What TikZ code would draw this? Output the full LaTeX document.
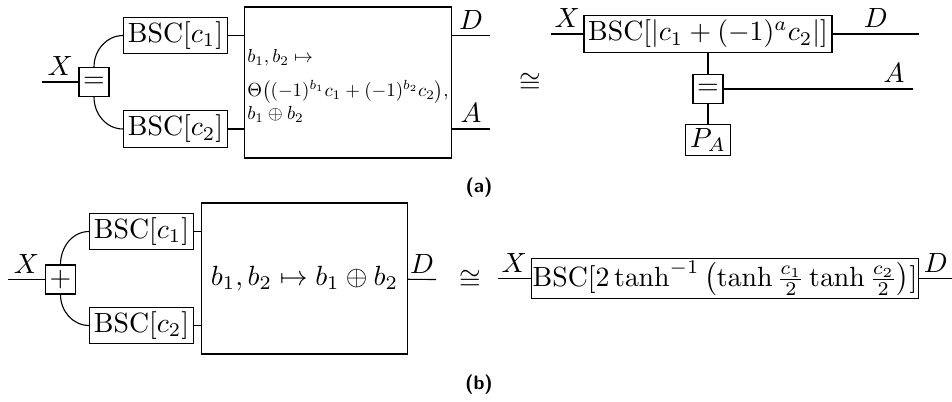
\documentclass[tikz,border=0pt]{standalone}
\usepackage{amsmath}
\usepackage{graphicx}
\usetikzlibrary{positioning}
\tikzset{
  chan/.style={draw,inner sep=1.5pt},
  gate/.style={draw,inner sep=0pt,minimum width=10.8pt,minimum height=10.4pt},
  block/.style={draw,minimum width=74.1pt,minimum height=54.3pt},
  lbl/.style={inner sep=2pt},
  tag/.style={font=\sffamily\bfseries\scriptsize}
}

\begin{document}
\begin{tikzpicture}[x=0.3597pt,y=-0.3597pt]
  \useasboundingbox (0,0) rectangle (952,401);
  % (a) left side
  \node[gate] (eqa) at (94,82) {$=$};
  \node[chan] (bsc1a) at (175.5,35.5) {BSC$[c_1]$};
  \node[chan] (bsc2a) at (175.5,129) {BSC$[c_2]$};
  \node[block,inner sep=1pt] (fa) at (348,82.5)
    {\scalebox{0.68}{\begin{tabular}{@{}l@{}}\rule{0pt}{12.5pt}$b_1,b_2\mapsto$\\[6pt]
      $\Theta\big((-1)^{b_1}c_1+(-1)^{b_2}c_2\big),$\\$b_1\oplus b_2$\end{tabular}}};
  \coordinate (xa) at (42,82);
  \coordinate (da) at (490,35.5);
  \coordinate (aa) at (490,129);
  \draw (xa) -- node[lbl,above] (xla) {$X$} (eqa);
  \draw (eqa.north) to[out=90,in=180] (bsc1a.west);
  \draw (eqa.south) to[out=-90,in=180] (bsc2a.west);
  \draw (bsc1a.east) -- (bsc1a.east -| fa.west);
  \draw (bsc2a.east) -- (bsc2a.east -| fa.west);
  \draw (fa.east |- da) -- node[lbl,above] (dla) {$D$} (da);
  \draw (fa.east |- aa) -- node[lbl,above] (ala) {$A$} (aa);
  \node[inner sep=0pt] (cong1) at (530,83) {$\cong$};
  % (a) right side
  \node[chan] (bscr) at (708,34) {BSC$[|c_1+(-1)^a c_2|]$};
  \node[gate] (eqr) at (708,89) {$=$};
  \node[chan] (pa) at (708,140) {$P_A$};
  \coordinate (xr) at (551,34);
  \coordinate (dr) at (919,34);
  \coordinate (ar) at (913,89);
  \draw (xr) -- node[lbl,above] (xlr) {$X$} (bscr);
  \draw (bscr) -- node[lbl,above] (dlr) {$D$} (dr);
  \draw (bscr) -- (eqr);
  \draw (eqr) -- (pa);
  \draw (eqr) -- node[lbl,above,pos=0.9] (alr) {$A$} (ar);
  \node[tag] (capa) at (479,188) {(a)};
  % (b) left side
  \node[gate] (xorb) at (60.5,279.5) {$+$};
  \node[chan] (bsc1b) at (141.5,231.5) {BSC$[c_1]$};
  \node[chan] (bsc2b) at (141.5,325.5) {BSC$[c_2]$};
  \node[block,minimum width=67.3pt] (fb) at (304.5,278.5) {$b_1,b_2\mapsto b_1\oplus b_2$};
  \coordinate (xb) at (8,279.5);
  \coordinate (db) at (436,279.5);
  \draw (xb) -- node[lbl,above] (xlb) {$X$} (xorb);
  \draw (xorb.north) to[out=90,in=180] (bsc1b.west);
  \draw (xorb.south) to[out=-90,in=180] (bsc2b.west);
  \draw (bsc1b.east) -- (bsc1b.east -| fb.west);
  \draw (bsc2b.east) -- (bsc2b.east -| fb.west);
  \draw (fb) -- node[lbl,above] (dlb) {$D$} (db);
  \node[inner sep=0pt] (cong2) at (470,280) {$\cong$};
  % (b) right side
  \node[chan,inner sep=0.5pt,minimum height=14.7pt] (bscb) at (725,278.5)
    {BSC$[2\tanh^{-1}\left(\tanh\frac{c_1}{2}\tanh\frac{c_2}{2}\right)]$};
  \coordinate (xbr) at (498,278.5);
  \coordinate (dbr) at (952,278.5);
  \draw (xbr) -- node[lbl,above] (xlbr) {$X$} (bscb);
  \draw (bscb) -- node[lbl,above] (dlbr) {$D$} (dbr);
  \node[tag] (capb) at (479,385) {(b)};
\end{tikzpicture}
\end{document}
